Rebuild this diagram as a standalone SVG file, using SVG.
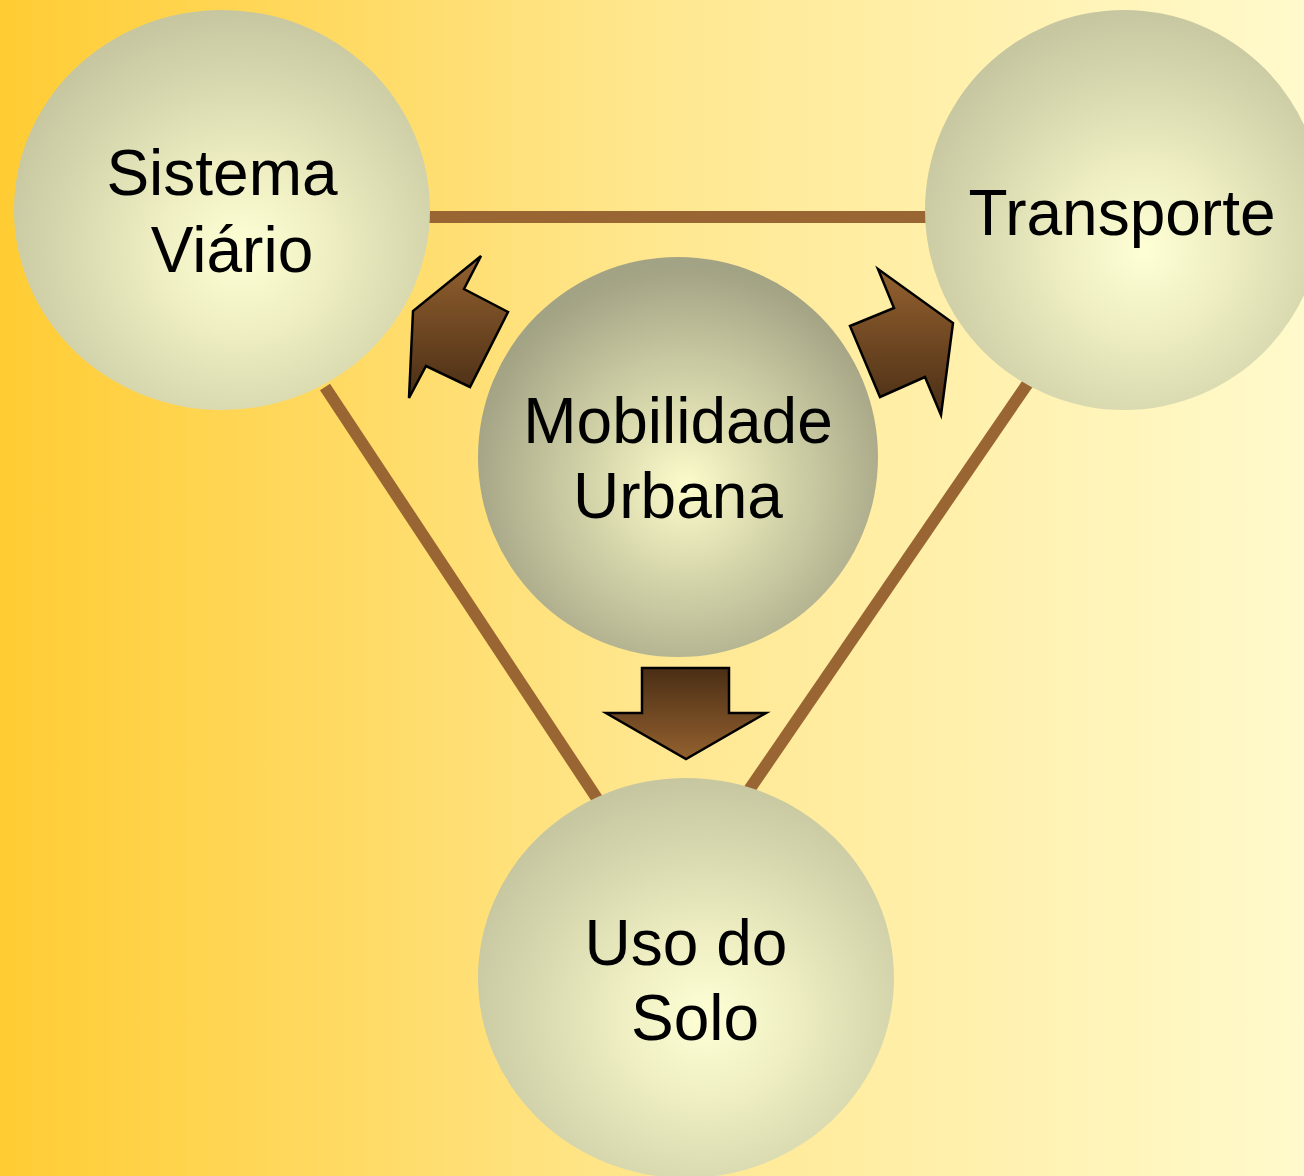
<svg xmlns="http://www.w3.org/2000/svg" width="1304" height="1176" viewBox="0 0 1304 1176">
<defs>
<linearGradient id="bg" x1="0" y1="0" x2="1" y2="0">
<stop offset="0" stop-color="#FFCC33"/>
<stop offset="0.5" stop-color="#FFE78F"/>
<stop offset="1" stop-color="#FFFACC"/>
</linearGradient>
<radialGradient id="g1" cx="0.55" cy="0.6" r="0.6">
<stop offset="0" stop-color="#FFFFD6"/>
<stop offset="0.35" stop-color="#EEEEC2"/>
<stop offset="1" stop-color="#C6C6A0"/>
</radialGradient>
<radialGradient id="g2" cx="0.52" cy="0.57" r="0.55">
<stop offset="0" stop-color="#FBFBCB"/>
<stop offset="0.35" stop-color="#DCDCB0"/>
<stop offset="1" stop-color="#A2A284"/>
</radialGradient>
<linearGradient id="au" x1="0" y1="0" x2="0" y2="1">
<stop offset="0" stop-color="#94612F"/>
<stop offset="1" stop-color="#4A2E15"/>
</linearGradient>
<linearGradient id="ad" x1="0" y1="0" x2="0" y2="1">
<stop offset="0" stop-color="#4A2E15"/>
<stop offset="1" stop-color="#94612F"/>
</linearGradient>
<style>
.lbl{font-family:"Liberation Sans",Arial,sans-serif;font-size:64px;fill:#000;text-anchor:middle}
.con{stroke:#996633;stroke-width:12;fill:none}
.arr{stroke:#000;stroke-width:2.5;stroke-linejoin:miter}
</style>
</defs>
<rect width="1304" height="1176" fill="url(#bg)"/>
<g id="connectors">
<line class="con" x1="428" y1="217" x2="928" y2="217"/>
<line class="con" x1="325" y1="387" x2="598" y2="800"/>
<line class="con" x1="1028" y1="383" x2="747" y2="793"/>
<polygon class="arr" fill="url(#au)" points="481,256 464,289 508,312 470,387 426,366 409,398 413,311"/>
<polygon class="arr" fill="url(#au)" points="878,269 894,308 850,326 880,397 925,377 941,415 953,323"/>
<polygon class="arr" fill="url(#ad)" points="642,668 729,668 729,713 766,713 686,759 606,713 642,713"/>
</g>
<g id="sistema-viario">
<ellipse cx="222" cy="210" rx="208" ry="200" fill="url(#g1)"/>
<text class="lbl" x="222" y="195">Sistema</text>
<text class="lbl" x="232" y="272">Viário</text>
</g>
<g id="transporte">
<ellipse cx="1124" cy="210" rx="199" ry="200" fill="url(#g1)"/>
<text class="lbl" x="1122" y="235">Transporte</text>
</g>
<g id="mobilidade">
<ellipse cx="678" cy="457" rx="200" ry="200" fill="url(#g2)"/>
<text class="lbl" x="678" y="443">Mobilidade</text>
<text class="lbl" x="678" y="518">Urbana</text>
</g>
<g id="uso-solo">
<ellipse cx="686" cy="978" rx="208" ry="200" fill="url(#g1)"/>
<text class="lbl" x="686" y="965">Uso do</text>
<text class="lbl" x="695" y="1040">Solo</text>
</g>
</svg>
